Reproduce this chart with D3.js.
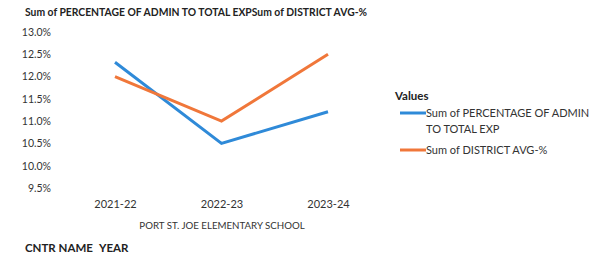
<!DOCTYPE html>
<html><head><meta charset="utf-8">
<script src="https://cdn.jsdelivr.net/npm/d3@7"></script>
<style>body{margin:0;background:#fff;} text{font-family:Lato,"Open Sans",sans-serif;}</style>
</head><body>
<svg id="c" width="590" height="263"></svg>
<script>
const years = ["2021-22","2022-23","2023-24"];
const adminPct = [12.32, 10.5, 11.21];
const districtAvg = [12.0, 11.0, 12.5];
const yTicks = [9.5,10.0,10.5,11.0,11.5,12.0,12.5,13.0];
const seriesNames = ["Sum of PERCENTAGE OF ADMIN TO TOTAL EXP","Sum of DISTRICT AVG-%"];
const colors = ["#2f8ad8","#f0773a"];
const ff = "Lato,'Open Sans',sans-serif";

const svg = d3.select("#c");
const x = d3.scalePoint().domain(years).range([115,328]);
const y = d3.scaleLinear().domain([9.5,13.0]).range([188,32]);

svg.append("text").attr("x",25).attr("y",16).attr("font-size",12).attr("font-weight","bold").attr("fill","#222")
  .attr("textLength",342).attr("lengthAdjust","spacingAndGlyphs")
  .text("Sum of PERCENTAGE OF ADMIN TO TOTAL EXPSum of DISTRICT AVG-%");

const ya = svg.append("g").attr("transform","translate(51,0)")
  .call(d3.axisLeft(y).tickValues(yTicks).tickFormat(d=>d.toFixed(1)+"%").tickSize(0).tickPadding(0));
ya.select(".domain").remove();
ya.selectAll("text").attr("font-size",10.5).attr("fill","#333").style("font-family",ff);

const xa = svg.append("g").attr("transform","translate(0,198)")
  .call(d3.axisBottom(x).tickSize(0).tickPadding(2));
xa.select(".domain").remove();
xa.selectAll("text").attr("font-size",11).attr("fill","#333").style("font-family",ff);

svg.append("text").attr("x",222).attr("y",229).attr("text-anchor","middle").attr("font-size",9.7).attr("fill","#333")
  .text("PORT ST. JOE ELEMENTARY SCHOOL");
svg.append("text").attr("x",25).attr("y",252).attr("font-size",11.5).attr("font-weight","bold").attr("fill","#222")
  .text("CNTR NAME");
svg.append("text").attr("x",99).attr("y",252).attr("font-size",11.5).attr("font-weight","bold").attr("fill","#222")
  .text("YEAR");

const line = d3.line().x((d,i)=>x(years[i])).y(d=>y(d));
[adminPct, districtAvg].forEach((s,k)=>{
  svg.append("path").datum(s).attr("d",line).attr("fill","none").attr("stroke",colors[k]).attr("stroke-width",3);
});

svg.append("text").attr("x",395).attr("y",100).attr("font-size",11.5).attr("font-weight","bold").attr("fill","#222").text("Values");
const leg = [[seriesNames[0].slice(0,26), "TO TOTAL EXP"],[seriesNames[1]]];
const ly = [113,150];
leg.forEach((lines,k)=>{
  svg.append("line").attr("x1",400).attr("x2",426).attr("y1",ly[k]).attr("y2",ly[k]).attr("stroke",colors[k]).attr("stroke-width",3);
  lines.forEach((t,j)=>{
    svg.append("text").attr("x",426).attr("y",ly[k]+4+j*16).attr("font-size",11).attr("fill","#333").text(t);
  });
});
</script>
</body></html>
